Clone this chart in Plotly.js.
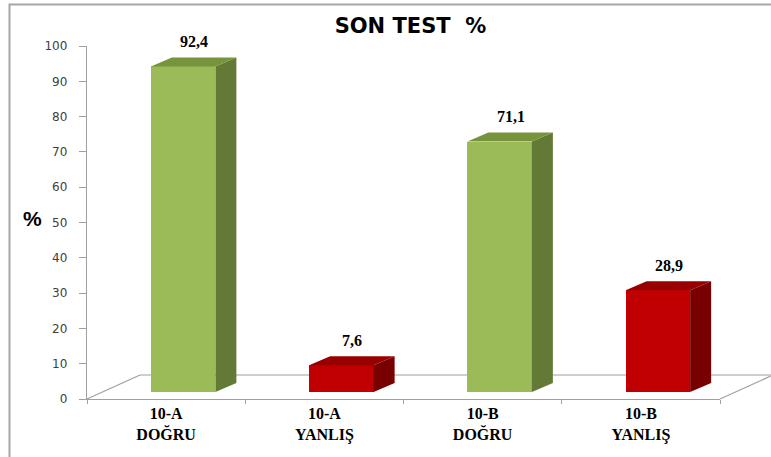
<!DOCTYPE html>
<html>
<head>
<meta charset="utf-8">
<script src="https://cdn.plot.ly/plotly-3.0.1.min.js"></script>
<style>html,body{margin:0;padding:0;background:#fff;}#chart{width:771px;height:457px;}</style>
</head>
<body>
<div id="chart"></div>
<script>
// ---- data ----
const classes = ['10-A', '10-A', '10-B', '10-B'];
const answers = ['DOĞRU', 'YANLIŞ', 'DOĞRU', 'YANLIŞ'];
const values = [92.4, 7.6, 71.1, 28.9];
const yTicks = [0, 10, 20, 30, 40, 50, 60, 70, 80, 90, 100];

// ---- styles ----
const frontColors = ['#9BBB59', '#C00000', '#9BBB59', '#C00000'];
const sideColors = ['#637A37', '#780000', '#637A37', '#780000'];
const topColors = ['#77933C', '#980000', '#77933C', '#980000'];
const gray = '#a0a0a0';
const serif = 'Liberation Serif, Times New Roman, serif';

const W = 771, H = 457;
const M = {l: 87, r: 51, t: 46, b: 58};
const plotW = W - M.l - M.r, plotH = H - M.t - M.b;
const catPx = plotW / values.length;
const shiftCat = 17 / catPx;          // bars sit a bit right (3D depth)
const barW = 64.5 / catPx;
const depthDx = 21 / catPx;            // bar side depth, category units
const y2Scale = 3.523;                 // px per unit for bars
const y2Min = -7 / y2Scale;
const y2Max = (plotH - 7) / y2Scale;
const depthDy = 9 / y2Scale;

const labels = classes.map((c, i) => '<b>' + c + '<br>' + answers[i] + '</b>');
const idx = values.map((v, i) => i);

const traces = [
  { // invisible trace to establish category axis
    type: 'scatter', x: labels, y: values, mode: 'markers',
    marker: {opacity: 0}, hoverinfo: 'skip', showlegend: false,
    xaxis: 'x', yaxis: 'y'
  },
  {
    type: 'bar', x: idx, y: values, width: barW,
    marker: {color: frontColors, line: {width: 0}},
    xaxis: 'x2', yaxis: 'y2', showlegend: false, hoverinfo: 'skip'
  }
];

const shapes = [];
// floor (decoration, paper coords)
const fdx = 53 / plotW, fdy = 24 / plotH;
shapes.push({type: 'line', xref: 'paper', yref: 'paper', x0: 0, y0: 0, x1: fdx, y1: fdy, line: {color: gray, width: 1.2}, layer: 'below'});
shapes.push({type: 'line', xref: 'paper', yref: 'paper', x0: fdx, y0: fdy, x1: 1 + fdx, y1: fdy, line: {color: gray, width: 1.2}, layer: 'below'});
shapes.push({type: 'line', xref: 'paper', yref: 'paper', x0: 1, y0: 0, x1: 1 + fdx, y1: fdy, line: {color: gray, width: 1.2}, layer: 'below'});
// outer frame
shapes.push({type: 'rect', xref: 'paper', yref: 'paper',
  x0: (9.5 - M.l) / plotW, y0: -0.5, x1: 1.5, y1: (H - M.b - 4.5) / plotH,
  line: {color: '#a6a6a6', width: 2}, fillcolor: 'rgba(0,0,0,0)', layer: 'below'});

// 3D side and top faces computed from the values
values.forEach((v, i) => {
  const xl = i - barW / 2, xr = i + barW / 2;
  shapes.push({type: 'path', xref: 'x2', yref: 'y2',
    path: `M${xr},0 L${xr + depthDx},${depthDy} L${xr + depthDx},${v + depthDy} L${xr},${v} Z`,
    fillcolor: sideColors[i], line: {width: 0}});
  shapes.push({type: 'path', xref: 'x2', yref: 'y2',
    path: `M${xl},${v} L${xr},${v} L${xr + depthDx},${v + depthDy} L${xl + depthDx},${v + depthDy} Z`,
    fillcolor: topColors[i], line: {width: 0}});
});

const annotations = values.map((v, i) => ({
  xref: 'x2', yref: 'y2', x: i, y: v, text: '<b>' + v.toFixed(1).replace('.', ',') + '</b>',
  showarrow: false, yanchor: 'middle', xanchor: 'center', yshift: 25, xshift: 11,
  font: {family: serif, size: 16, color: '#000'}
}));
annotations.push({
  xref: 'paper', yref: 'paper', x: (32.5 - M.l) / plotW, y: (H - M.b - 218) / plotH,
  text: '<b>%</b>', showarrow: false, xanchor: 'center', yanchor: 'middle',
  font: {family: 'Liberation Sans Narrow, Liberation Sans, Arial', size: 21, color: '#000'}
});

const layout = {
  width: W, height: H,
  margin: M,
  paper_bgcolor: '#fff', plot_bgcolor: 'rgba(0,0,0,0)',
  title: {text: '<b>SON TEST  %</b>', x: 394 / W, xanchor: 'center', xref: 'paper',
    y: 1 - 26 / H, yanchor: 'middle', yref: 'container',
    font: {family: 'DejaVu Sans', size: 21, color: '#000'}},
  xaxis: {
    type: 'category', categoryorder: 'array', categoryarray: labels,
    range: [-0.5, values.length - 0.5], tickson: 'boundaries',
    ticks: 'outside', ticklen: 4, tickcolor: gray, showline: true, linecolor: gray, linewidth: 1.2,
    showgrid: false, zeroline: false, fixedrange: true,
    tickfont: {family: serif, size: 16, color: '#000'}
  },
  yaxis: {
    range: [0, 100], tickmode: 'array', tickvals: yTicks,
    ticks: 'outside', ticklen: 7, tickcolor: gray, showline: true, linecolor: gray, linewidth: 1.2,
    showgrid: false, zeroline: false, ticklabelstandoff: 9,
    tickfont: {family: 'DejaVu Sans', size: 12, color: '#404040'}
  },
  xaxis2: {overlaying: 'x', range: [-0.5 - shiftCat, values.length - 0.5 - shiftCat], visible: false, fixedrange: true},
  yaxis2: {overlaying: 'y', range: [y2Min, y2Max], visible: false, fixedrange: true},
  shapes: shapes,
  annotations: annotations,
  bargap: 0
};

Plotly.newPlot('chart', traces, layout, {displayModeBar: false, staticPlot: true});
</script>
</body>
</html>
